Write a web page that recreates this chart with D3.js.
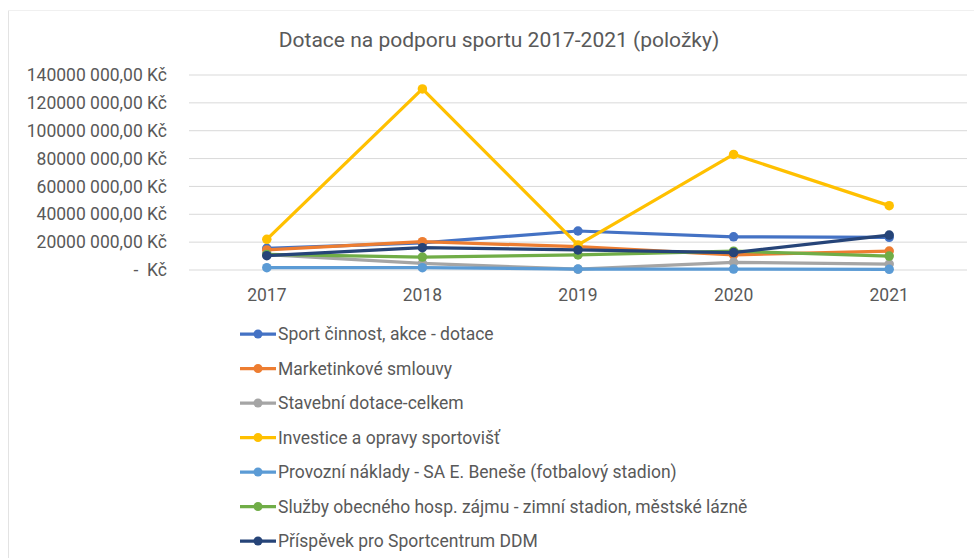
<!DOCTYPE html>
<html lang="cs">
<head>
    <meta charset="UTF-8">
    <title>Dotace na podporu sportu</title>
    <script src="https://cdn.jsdelivr.net/npm/d3@7"></script>
    <style>
        body { margin: 0; background: #fff; }
        svg text { font-family: Roboto, "Noto Sans", sans-serif; fill: #595959; }
    </style>
</head>
<body>
<svg width="974" height="558"></svg>
<script>

    // roky
    var years = ["2017", "2018", "2019", "2020", "2021"];

    // hodnoty v Kč
    var sportCinnost = [15600000, 19500000, 28000000, 23800000, 23500000];
    var marketing = [14400000, 20300000, 16700000, 10800000, 13600000];
    var stavebni = [11000000, 4800000, 600000, 5500000, 4300000];
    var investice = [22000000, 130000000, 18000000, 83000000, 46200000];
    var provozni = [1700000, 1700000, 700000, 700000, 500000];
    var sluzby = [11200000, 9300000, 10800000, 13500000, 10000000];
    var prispevek = [10300000, 16000000, 14400000, 12500000, 25100000];

    var seriesNames = [
        "Sport činnost, akce - dotace",
        "Marketinkové smlouvy",
        "Stavební dotace-celkem",
        "Investice a opravy sportovišť",
        "Provozní náklady - SA E. Beneše (fotbalový stadion)",
        "Služby obecného hosp. zájmu - zimní stadion, městské lázně",
        "Příspěvek pro Sportcentrum DDM"
    ];
    var seriesValues = [sportCinnost, marketing, stavebni, investice, provozni, sluzby, prispevek];
    var colors = ["#4472C4", "#ED7D31", "#A5A5A5", "#FFC000", "#5B9BD5", "#70AD47", "#264478"];

    var yTicks = [0, 20000000, 40000000, 60000000, 80000000, 100000000, 120000000, 140000000];
    var yTickLabels = ["-\u00a0\u00a0Kč", "20000 000,00 Kč", "40000 000,00 Kč", "60000 000,00 Kč",
        "80000 000,00 Kč", "100000 000,00 Kč", "120000 000,00 Kč", "140000 000,00 Kč"];

    var svg = d3.select("svg");

    // rámeček grafu
    svg.append("line").attr("x1", 8.5).attr("x2", 8.5).attr("y1", 10).attr("y2", 558)
        .attr("stroke", "#e3e3e3");
    svg.append("line").attr("x1", 8).attr("x2", 974).attr("y1", 10.5).attr("y2", 10.5)
        .attr("stroke", "#f0f0f0");

    var x = d3.scaleBand().domain(years).range([189, 967]);
    var y = d3.scaleLinear().domain([0, 140000000]).range([270, 75]);

    // mřížka
    svg.append("g")
        .selectAll("line")
        .data(yTicks)
        .enter().append("line")
        .attr("x1", 189).attr("x2", 967)
        .attr("y1", function (d) { return y(d); })
        .attr("y2", function (d) { return y(d); })
        .attr("stroke", "#d9d9d9")
        .attr("stroke-width", 1);

    // osa y
    var yAxis = svg.append("g")
        .attr("transform", "translate(167,0)")
        .call(d3.axisLeft(y).tickValues(yTicks).tickSize(0).tickPadding(0)
            .tickFormat(function (d, i) { return yTickLabels[i]; }));
    yAxis.select(".domain").remove();
    yAxis.selectAll("text").style("font-size", "17.5px").attr("fill", "#595959");

    // osa x
    var xAxis = svg.append("g")
        .attr("transform", "translate(0,289)")
        .call(d3.axisBottom(x).tickSize(0).tickPadding(0));
    xAxis.select(".domain").remove();
    xAxis.selectAll("text").style("font-size", "17.5px").attr("fill", "#595959");

    // nadpis
    svg.append("text")
        .attr("x", 499)
        .attr("y", 47)
        .attr("text-anchor", "middle")
        .style("font-size", "21px")
        .text("Dotace na podporu sportu 2017-2021 (položky)");

    var line = d3.line()
        .x(function (d, i) { return x(years[i]) + x.bandwidth() / 2; })
        .y(function (d) { return y(d); });

    var series = svg.append("g")
        .selectAll("g")
        .data(seriesValues)
        .enter().append("g");

    series.append("path")
        .attr("d", function (d) { return line(d); })
        .attr("fill", "none")
        .attr("stroke", function (d, i) { return colors[i]; })
        .attr("stroke-width", 3.25)
        .attr("stroke-linejoin", "round");

    series.each(function (vals, i) {
        d3.select(this).selectAll("circle")
            .data(vals)
            .enter().append("circle")
            .attr("cx", function (d, j) { return x(years[j]) + x.bandwidth() / 2; })
            .attr("cy", function (d) { return y(d); })
            .attr("r", 4.75)
            .attr("fill", colors[i]);
    });

    // legenda
    var legend = svg.append("g")
        .selectAll("g")
        .data(seriesNames)
        .enter().append("g")
        .attr("transform", function (d, i) { return "translate(240," + (334 + i * 34.5) + ")"; });

    legend.append("line")
        .attr("x1", 0).attr("x2", 36)
        .attr("stroke", function (d, i) { return colors[i]; })
        .attr("stroke-width", 3.25);
    legend.append("circle")
        .attr("cx", 18).attr("r", 4.5)
        .attr("fill", function (d, i) { return colors[i]; });
    legend.append("text")
        .attr("x", 38)
        .attr("dy", "0.35em")
        .style("font-size", "17.5px")
        .text(function (d) { return d; });

</script>
</body>
</html>
